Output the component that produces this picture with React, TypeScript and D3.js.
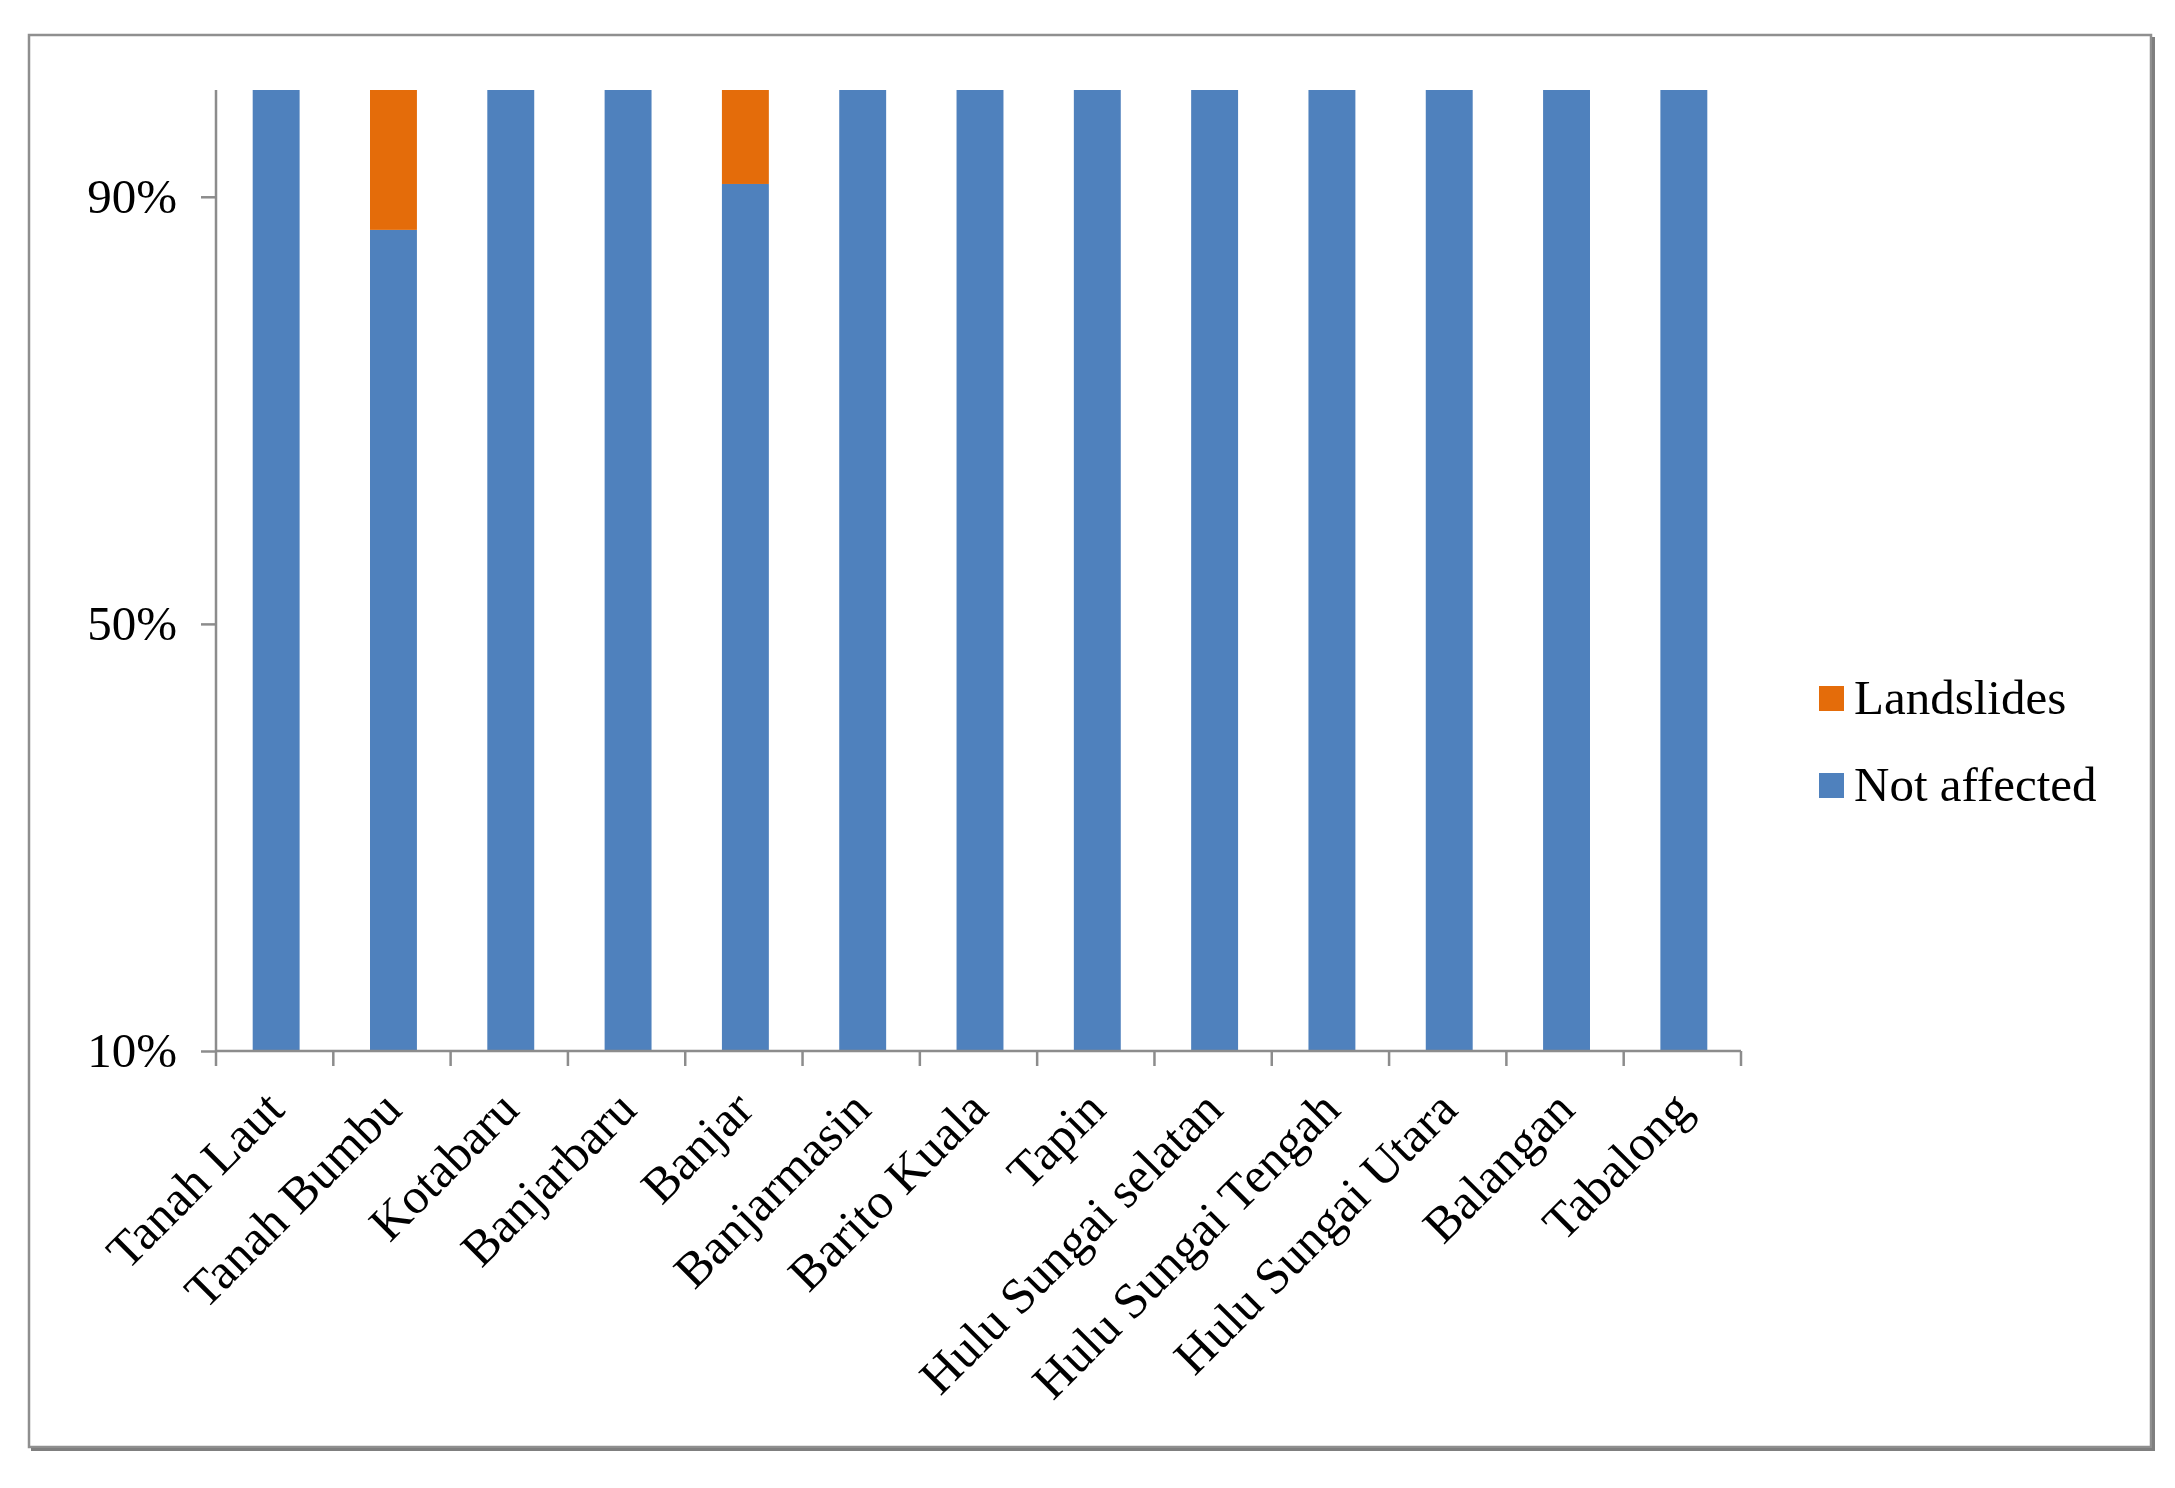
import React, { useEffect, useRef } from 'react'
import * as d3 from 'd3'

// Data
const categories = [
  'Tanah Laut',
  'Tanah Bumbu',
  'Kotabaru',
  'Banjarbaru',
  'Banjar',
  'Banjarmasin',
  'Barito Kuala',
  'Tapin',
  'Hulu Sungai selatan',
  'Hulu Sungai Tengah',
  'Hulu Sungai Utara',
  'Balangan',
  'Tabalong',
]
const notAffected = [100, 86.9, 100, 100, 91.2, 100, 100, 100, 100, 100, 100, 100, 100]
const landslides = [0, 13.1, 0, 0, 8.8, 0, 0, 0, 0, 0, 0, 0, 0]
const yTicks = [10, 50, 90]
const seriesKeys = ['notAffected', 'landslides']
const seriesLabels = ['Not affected', 'Landslides']
const seriesColors = ['#4F81BD', '#E46C0A']

const W = 2175
const H = 1488
const FONT = '"Liberation Serif", "Times New Roman", serif'

export default function App() {
  const ref = useRef<SVGSVGElement | null>(null)

  useEffect(() => {
    const svg = d3.select(ref.current)
    svg.selectAll('*').remove()

    // Dimensions
    const left = 216
    const right = 1741
    const top = 90
    const bottom = 1051

    // Scales
    const x = d3
      .scaleBand<string>()
      .domain(categories)
      .range([left, right])
      .paddingInner(0.6)
      .paddingOuter(0.3)
    const y = d3.scaleLinear().domain([10, 100]).range([bottom, top]).clamp(true)

    const rows = categories.map((c, i) => ({
      category: c,
      notAffected: notAffected[i],
      landslides: landslides[i],
    }))
    const stacked = d3.stack<any>().keys(seriesKeys)(rows)

    // Frame
    svg
      .append('rect')
      .attr('x', 29)
      .attr('y', 35)
      .attr('width', 2122)
      .attr('height', 1412)
      .attr('fill', '#fff')
      .attr('stroke', '#8f8f8f')
      .attr('stroke-width', 2.5)
    svg
      .append('path')
      .attr('d', 'M31,1449.5 H2153.5 V37')
      .attr('fill', 'none')
      .attr('stroke', '#7f7f7f')
      .attr('stroke-width', 3)

    // Bars
    svg
      .append('g')
      .selectAll('g')
      .data(stacked)
      .enter()
      .append('g')
      .attr('fill', (d, i) => seriesColors[i])
      .selectAll('rect')
      .data(d => d)
      .enter()
      .append('rect')
      .attr('x', d => (x(d.data.category) as number) + 1.5)
      .attr('width', x.bandwidth())
      .attr('y', d => y(d[1]))
      .attr('height', d => Math.max(0, y(d[0]) - y(d[1])))

    // Y axis
    const yAxis = svg
      .append('g')
      .attr('transform', `translate(${left},0)`)
      .call(
        d3
          .axisLeft(y)
          .tickValues(yTicks)
          .tickFormat(d => `${d}%`)
          .tickSize(15)
          .tickPadding(24)
      )
    yAxis.select('.domain').attr('stroke', '#8c8c8c').attr('stroke-width', 2.5).attr('d', `M0,${top}V${bottom}`)
    yAxis.selectAll('.tick line').attr('stroke', '#8c8c8c').attr('stroke-width', 2.5)
    yAxis
      .selectAll('.tick text')
      .attr('fill', '#000')
      .attr('font-family', FONT)
      .attr('font-size', 49)

    // X axis
    const step = x.step()
    const bounds = categories.map(c => (x(c) as number) - step * 0.3).concat([right])
    const xAxis = svg.append('g')
    xAxis
      .append('line')
      .attr('x1', left)
      .attr('x2', right)
      .attr('y1', bottom)
      .attr('y2', bottom)
      .attr('stroke', '#8c8c8c')
      .attr('stroke-width', 2.5)
    xAxis
      .selectAll('line.tick')
      .data(bounds)
      .enter()
      .append('line')
      .attr('class', 'tick')
      .attr('x1', d => d)
      .attr('x2', d => d)
      .attr('y1', bottom)
      .attr('y2', bottom + 15)
      .attr('stroke', '#8c8c8c')
      .attr('stroke-width', 2.5)
    xAxis
      .selectAll('text')
      .data(categories)
      .enter()
      .append('text')
      .attr('transform', c => `translate(${(x(c) as number) + x.bandwidth() / 2 + 12},${bottom + 61}) rotate(-45)`)
      .attr('text-anchor', 'end')
      .attr('font-family', FONT)
      .attr('font-size', 50)
      .attr('fill', '#000')
      .text(c => c)

    // Legend
    const legendOrder = [1, 0]
    const legend = svg
      .selectAll('g.legend')
      .data(legendOrder)
      .enter()
      .append('g')
      .attr('class', 'legend')
      .attr('transform', (d, i) => `translate(1819,${686 + i * 87})`)
    legend
      .append('rect')
      .attr('width', 25)
      .attr('height', 25)
      .attr('fill', d => seriesColors[d])
    legend
      .append('text')
      .attr('x', 35)
      .attr('y', 28)
      .attr('font-family', FONT)
      .attr('font-size', 49)
      .attr('fill', '#000')
      .text(d => seriesLabels[d])
  }, [])

  return (
    <div style={{ position: 'absolute', left: 0, top: 0 }}>
      <svg ref={ref} width={W} height={H} style={{ display: 'block', background: '#fff' }} />
    </div>
  )
}
